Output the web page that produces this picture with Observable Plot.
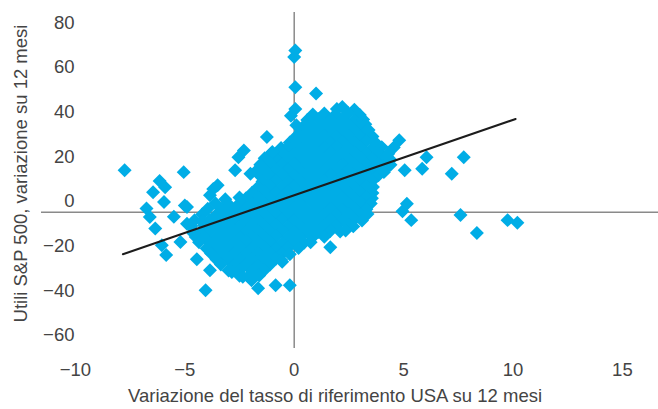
<!DOCTYPE html>
<html>
<head>
<meta charset="utf-8">
<script src="https://cdn.jsdelivr.net/npm/d3@7"></script>
<script src="https://cdn.jsdelivr.net/npm/@observablehq/plot@0.6"></script>
<style>
  html, body { margin: 0; padding: 0; background: #ffffff; }
</style>
</head>
<body>
<div id="chart"></div>
<script>
// ---- Data ----
const xTitle = "Variazione del tasso di riferimento USA su 12 mesi";
const yTitle = "Utili S&P 500, variazione su 12 mesi";
const xTicks = [-10, -5, 0, 5, 10, 15];
const yTicks = [-60, -40, -20, 0, 20, 40, 60, 80];

// Regression line end points
const trendX = [-7.83, 10.12];
const trendY = [-18.8, 41.8];

// Dense central cluster [rate change, earnings change]
const clusterPoints = [
  [1.95,46.3],[2.2,47.2],[2.75,45.9],
  [0.85,43.8],[1.375,44.3],[1.9,43.9],[2.475,44.4],[3.0,43.6],
  [0.6,41.3],[1.1,41.8],[1.65,41.4],[2.2,41.7],[2.75,41.2],[3.15,41.6],
  [0.5,39.2],[0.825,38.8],[1.375,39.3],[1.925,38.9],[2.475,39.1],[3.025,38.7],[3.25,39.4],
  [0.3,36.3],[0.55,36.8],[1.1,36.4],[1.65,36.7],[2.2,36.2],[2.75,36.6],[3.3,36.3],[3.4,36.9],
  [0.05,33.6],[0.275,34.1],[0.825,33.7],[1.375,34.3],[1.925,33.9],[2.475,34.2],[3.025,33.8],[3.575,34.0],
  [-0.2,31.3],[0.05,31.8],[0.55,31.4],[1.1,31.7],[1.65,31.2],[2.2,31.6],[2.75,31.3],[3.3,31.8],[3.7,31.4],
  [-0.6,28.8],[-0.275,29.2],[0.275,28.7],[0.825,29.1],[1.375,28.8],[1.925,29.3],[2.475,28.9],[3.025,29.0],[3.575,28.6],[4.0,29.2],
  [-1.05,26.3],[-0.55,26.7],[0.0,26.4],[0.55,26.8],[1.1,26.2],[1.65,26.6],[2.2,26.5],[2.75,26.9],[3.3,26.3],[3.85,26.7],[4.3,26.2],
  [-1.35,24.2],[-0.825,23.8],[-0.275,24.3],[0.275,23.9],[0.825,24.1],[1.375,23.7],[1.925,24.2],[2.475,23.8],[3.025,24.3],[3.575,23.9],[4.125,24.1],[4.4,23.6],
  [-1.55,21.3],[-1.1,21.7],[-0.55,21.4],[0.0,21.8],[0.55,21.2],[1.1,21.6],[1.65,21.5],[2.2,21.2],[2.75,21.7],[3.3,21.4],[3.85,21.6],[4.4,21.3],
  [-1.7,18.8],[-1.375,19.3],[-0.825,18.9],[-0.275,19.2],[0.275,18.7],[0.825,19.1],[1.375,18.8],[1.925,19.2],[2.475,18.9],[3.025,19.3],[3.575,18.8],[4.125,19.1],
  [-1.6,16.7],[-1.1,16.3],[-0.55,16.8],[0.0,16.4],[0.55,16.6],[1.1,16.2],[1.65,16.7],[2.2,16.4],[2.75,16.8],[3.3,16.3],[3.85,16.6],
  [-1.45,13.8],[-0.825,14.2],[-0.275,13.7],[0.275,14.3],[0.825,13.9],[1.375,14.1],[1.925,13.6],[2.475,14.2],[3.025,13.8],[3.575,14.1],
  [-1.65,11.3],[-1.1,11.7],[-0.55,11.2],[0.0,11.6],[0.55,11.4],[1.1,11.8],[1.65,11.3],[2.2,11.6],[2.75,11.2],[3.3,11.7],[3.6,11.3],
  [-1.925,8.8],[-1.375,9.2],[-0.825,8.9],[-0.275,9.3],[0.275,8.7],[0.825,9.1],[1.375,8.8],[1.925,9.2],[2.475,8.9],[3.025,9.0],[3.575,8.7],
  [-2.2,6.3],[-1.65,6.7],[-1.1,6.2],[-0.55,6.6],[0.0,6.4],[0.55,6.8],[1.1,6.3],[1.65,6.6],[2.2,6.5],[2.75,6.2],[3.3,6.7],[3.55,6.3],
  [-3.6,4.1],[-3.025,3.8],[-2.475,4.3],[-1.925,3.9],[-1.375,4.2],[-0.825,3.7],[-0.275,4.1],[0.275,3.8],[0.825,4.3],[1.375,3.9],[1.925,4.0],[2.475,3.7],[3.025,4.2],[3.5,3.9],
  [-3.95,1.6],[-3.3,1.7],[-2.75,1.3],[-2.2,1.8],[-1.65,1.2],[-1.1,1.6],[-0.55,1.4],[0.0,1.8],[0.55,1.3],[1.1,1.7],[1.65,1.5],[2.2,1.2],[2.75,1.7],[3.3,1.4],
  [-4.2,-0.9],[-3.575,-1.2],[-3.025,-0.8],[-2.475,-1.3],[-1.925,-0.9],[-1.375,-1.1],[-0.825,-0.7],[-0.275,-1.2],[0.275,-0.8],[0.825,-1.3],[1.375,-0.9],[1.925,-1.1],[2.475,-0.7],[3.025,-1.2],[3.35,-0.8],
  [-4.55,-3.6],[-4.2,-3.9],[-3.85,-3.3],[-3.3,-3.7],[-2.75,-3.2],[-2.2,-3.8],[-1.65,-3.4],[-1.1,-3.6],[-0.55,-3.2],[0.0,-3.7],[0.55,-3.3],[1.1,-3.8],[1.65,-3.4],[2.2,-3.6],[2.75,-3.2],[3.1,-3.7],
  [-4.7,-6.1],[-4.125,-5.8],[-3.575,-6.3],[-3.025,-5.9],[-2.475,-6.2],[-1.925,-5.7],[-1.375,-6.1],[-0.825,-5.8],[-0.275,-6.3],[0.275,-5.9],[0.825,-6.2],[1.375,-5.8],[1.925,-6.0],[2.475,-5.7],[2.7,-6.3],
  [-4.6,-8.6],[-4.25,-8.9],[-3.85,-8.2],[-3.3,-8.7],[-2.75,-8.3],[-2.2,-8.8],[-1.65,-8.4],[-1.1,-8.6],[-0.55,-8.2],[0.0,-8.7],[0.55,-8.3],[1.1,-8.8],[1.65,-8.4],[2.1,-8.6],
  [-4.5,-11.1],[-4.125,-10.7],[-3.575,-11.2],[-3.025,-10.8],[-2.475,-11.3],[-1.925,-10.9],[-1.375,-11.1],[-0.825,-10.7],[-0.275,-11.2],[0.275,-10.8],[0.825,-11.3],[1.375,-10.9],
  [-4.35,-13.4],[-3.85,-13.8],[-3.3,-13.3],[-2.75,-13.7],[-2.2,-13.2],[-1.65,-13.6],[-1.1,-13.4],[-0.55,-13.8],[0.0,-13.3],[0.45,-13.6],
  [-4.0,-16.2],[-3.575,-15.8],[-3.025,-16.3],[-2.475,-15.9],[-1.925,-16.1],[-1.375,-15.7],[-0.825,-16.2],[-0.275,-15.8],[0.2,-16.0],
  [-3.8,-18.4],[-3.3,-18.8],[-2.75,-18.3],[-2.2,-18.7],[-1.65,-18.2],[-1.1,-18.6],[-0.55,-18.4],[-0.2,-18.8],
  [-3.55,-21.1],[-3.025,-20.8],[-2.475,-21.3],[-1.925,-20.9],[-1.375,-21.2],[-0.825,-20.7],[-0.6,-21.3],
  [-3.35,-23.4],[-2.75,-23.7],[-2.2,-23.3],[-1.65,-23.8],[-1.1,-23.4],
  [-3.0,-26.1],[-2.475,-25.8],[-1.925,-26.3],[-1.375,-25.9],
  [-2.5,-28.4],[-2.1,-28.7],[-1.6,-28.3]
];

// Scattered points around the cluster [rate change, earnings change]
const outlierPoints = [
  [-7.75,18.8],[-6.15,14.0],[-5.9,11.2],[-6.45,9.0],[-5.95,4.6],[-6.75,1.7],[-6.6,-2.1],
  [-6.35,-7.3],[-6.05,-14.7],[-5.85,-19.1],[-5.05,18.0],[-5.0,3.0],[-5.5,-2.0],[-5.2,-13.3],
  [-4.6,-9.5],[-4.9,-5.1],[-4.9,2.4],[-4.45,-21.0],[-4.05,-34.9],[-3.85,-25.9],
  [-3.7,10.4],[-3.5,12.1],[-3.85,7.6],[-2.5,6.6],[-3.15,5.9],[-2.7,18.8],[-2.55,24.7],[-2.3,27.7],
  [-2.0,17.3],[-1.25,33.7],[-1.0,27.0],
  [0.05,72.5],[0.0,69.6],[0.05,56.0],[1.0,53.2],[0.05,46.3],[-0.15,43.3],[0.1,39.0],
  [4.8,32.3],[4.55,29.0],[4.1,18.0],[6.05,24.7],[7.75,24.7],[7.2,17.3],[5.05,18.8],[5.85,19.5],
  [5.15,3.8],[4.95,0.5],[5.35,-3.5],[7.6,-1.2],[8.35,-9.3],[9.75,-3.5],[10.2,-4.7],
  [0.75,-13.4],[1.65,-15.6],[2.35,-8.1],[-0.85,-32.7],[-0.2,-32.7],[-1.65,-34.0],
  [-1.95,-30.4],[-2.35,-28.9],[-2.85,-26.7],[-0.55,-22.1],[-1.3,-19.3]
];

// ---- Build ----
const points = clusterPoints.concat(outlierPoints).map(([x, y]) => ({x, y}));
const trend = trendX.map((x, i) => ({x, y: trendY[i]}));

const textColor = "#444444";
const axisColor = "#8a8a8a";
const dotColor = "#00ade6";

const chart = Plot.plot({
  width: 658,
  height: 409,
  marginLeft: 41,
  marginRight: 0,
  marginTop: 12,
  marginBottom: 61,
  style: {
    fontFamily: "'Liberation Sans', Arial, sans-serif",
    fontSize: "18.5px",
    color: textColor,
    background: "#ffffff"
  },
  x: {domain: [-11.55, 16.65]},
  y: {domain: [-61, 89.5]},
  marks: [
    Plot.ruleY([0], {stroke: axisColor, strokeWidth: 1.5}),
    Plot.ruleX([0], {stroke: axisColor, strokeWidth: 1.5}),
    Plot.dot(points, {x: "x", y: "y", symbol: "diamond2", r: 6.3, fill: dotColor, stroke: "none"}),
    Plot.line(trend, {x: "x", y: "y", stroke: "#1c1c1c", strokeWidth: 2}),
    Plot.axisX({ticks: xTicks, tickSize: 0, tickPadding: 14, label: null}),
    Plot.axisY({ticks: yTicks, tickSize: 0, tickPadding: 0, dx: 33, dy: -11, label: null}),
    Plot.text([xTitle], {frameAnchor: "bottom", dx: -15, dy: 48, lineAnchor: "middle", textAnchor: "middle", fill: textColor}),
    Plot.text([yTitle], {frameAnchor: "left", rotate: -90, dx: -20, dy: -7, lineAnchor: "middle", textAnchor: "middle", fill: textColor})
  ]
});

document.getElementById("chart").appendChild(chart);
</script>
</body>
</html>
